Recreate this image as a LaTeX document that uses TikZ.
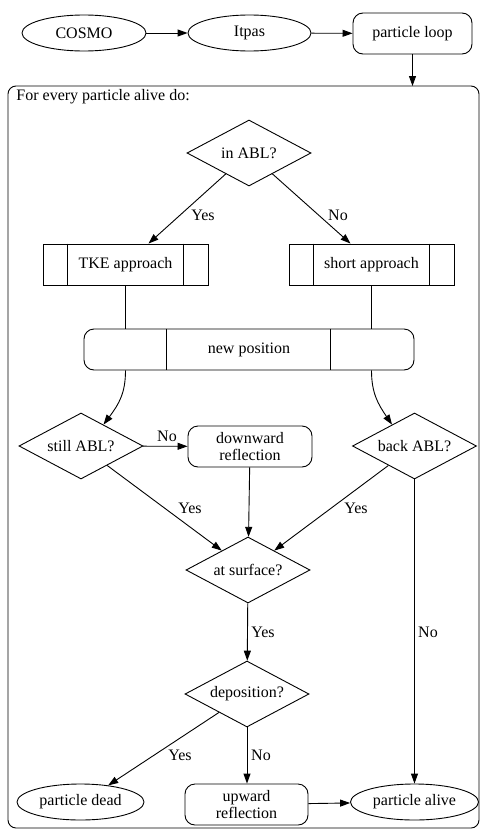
\documentclass[tikz,border=0pt]{standalone}
\usepackage{fontspec}
\setmainfont{Liberation Serif}
\usetikzlibrary{shapes.geometric,arrows.meta,calc}
\begin{document}
\begin{tikzpicture}[x=1bp,y=-1bp, line width=0.9bp,
 every node/.style={font=\fontsize{16bp}{17bp}\selectfont, inner sep=0pt},
 ell/.style={draw, ellipse, minimum width=#1, minimum height=36bp},
 rbox/.style={draw, rounded corners=10bp, minimum width=#1, minimum height=41bp, align=center},
 dia/.style={draw, diamond, aspect=1.9, minimum width=124bp, minimum height=66bp},
 sbox/.style={draw, rectangle, minimum width=165bp, minimum height=41bp},
 arr/.style={-{Triangle[length=10bp,width=7bp]}}]
\useasboundingbox (0,0) rectangle (480,831);
% top row
\node[ell=124bp] (cosmo) at (84,33) {COSMO};
\node[ell=123bp] (itpas) at (249.5,33) {Itpas};
\node[rbox=119bp] (loop) at (412.5,33.5) {particle loop};
\draw[arr] (cosmo) -- (itpas);
\draw[arr] (itpas) -- (loop);
% cluster
\draw[rounded corners=8bp] (8,86) rectangle (479,828);
\coordinate (ctop) at (412.5,86);
\draw[arr] (loop) -- (ctop);
\node[anchor=west] (clab) at (16,97) {For every particle alive do:};
% nodes
\node[dia] (inabl) at (249,153) {in ABL?};
\node[sbox] (tke) at (125.5,264.5) {TKE approach};
\node[sbox] (short) at (371.5,264.5) {short approach};
\draw ([xshift=25bp]tke.north west) -- ([xshift=25bp]tke.south west);
\draw ([xshift=-25bp]tke.north east) -- ([xshift=-25bp]tke.south east);
\draw ([xshift=25bp]short.north west) -- ([xshift=25bp]short.south west);
\draw ([xshift=-25bp]short.north east) -- ([xshift=-25bp]short.south east);
\node[rbox=330bp] (newpos) at (249,349.5) {new position};
\draw ([xshift=83bp]newpos.north west) -- ([xshift=83bp]newpos.south west);
\draw ([xshift=-84bp]newpos.north east) -- ([xshift=-84bp]newpos.south east);
\node[dia] (still) at (81,446) {still ABL?};
\node[rbox=124bp] (down) at (250,446.5) {downward\\reflection};
\node[dia] (back) at (414.5,446) {back ABL?};
\node[dia] (surf) at (248,570) {at surface?};
\node[dia] (dep) at (247,694) {deposition?};
\node[ell=127bp] (dead) at (80.5,802) {particle dead};
\node[rbox=123bp] (up) at (246.5,804.5) {upward\\reflection};
\node[ell=128bp] (alive) at (414.5,802) {particle alive};
% edges
\draw[arr] (inabl) -- ([xshift=23bp]tke.north);
\draw[arr] (inabl) -- ([xshift=-21bp]short.north);
\draw (tke.south) -- (tke.south |- newpos.north);
\draw (short.south) -- (short.south |- newpos.north);
\draw[arr] (tke.south |- newpos.south) .. controls (125.5,393) and (119,404) .. ($(still.north)!0.36!(still.east)$);
\draw[arr] (short.south |- newpos.south) .. controls (371.5,393) and (378,404) .. ($(back.north)!0.36!(back.west)$);
\draw[arr] (still) -- (down);
\draw[arr] (still) -- ($(surf.north)!0.42!(surf.west)$);
\draw[arr] (down) -- (surf);
\draw[arr] (back) -- ($(surf.north)!0.42!(surf.east)$);
\draw[arr] (back) -- (alive);
\draw[arr] (surf) -- (dep);
\draw[arr] (dep) -- (dead.31);
\draw[arr] (dep) -- (dep |- up.north);
\draw[arr] (up) -- (alive);
% labels
\node (l1) at (203,215) {Yes};
\node (l2) at (338,215) {No};
\node (l3) at (167,436) {No};
\node (l4) at (190,508) {Yes};
\node (l5) at (356,508) {Yes};
\node (l6) at (263,632) {Yes};
\node (l7) at (428,632) {No};
\node (l8) at (180,755) {Yes};
\node (l9) at (261,755) {No};
\end{tikzpicture}
\end{document}
